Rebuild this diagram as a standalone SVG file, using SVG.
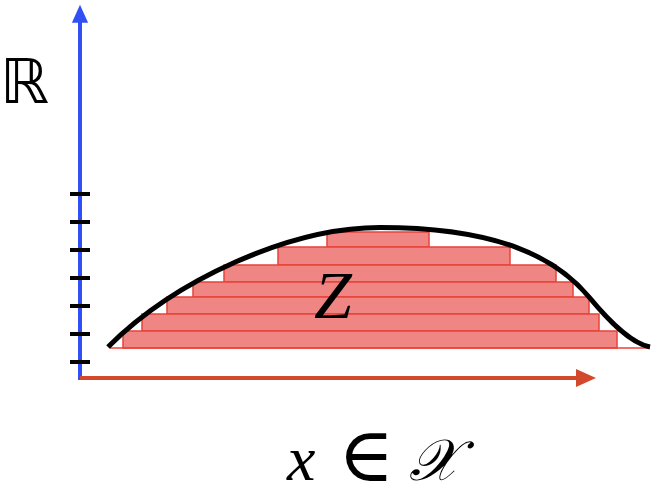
<svg xmlns="http://www.w3.org/2000/svg" width="666" height="490" viewBox="0 0 666 490">
<style>
.bar{fill:#f08683;stroke:#e8433a;stroke-width:1.5}
.tick{stroke:#000;stroke-width:4}
.math{font-family:"Liberation Serif","DejaVu Serif",serif;font-style:italic}
</style>
<defs>
<marker id="ab" markerWidth="18" markerHeight="20" refX="2" refY="9" orient="auto" markerUnits="userSpaceOnUse" viewBox="0 0 20 18">
<path d="M0,0 L20,9 L0,18 Z" fill="#3050f5"/>
</marker>
<marker id="ar" markerWidth="20" markerHeight="18" refX="2" refY="9" orient="auto" markerUnits="userSpaceOnUse" viewBox="0 0 20 18">
<path d="M0,0 L20,9 L0,18 Z" fill="#d2492e"/>
</marker>
</defs>
<rect width="666" height="490" fill="#fff"/>
<g id="bars">
<rect class="bar" x="327" y="232" width="102" height="15"/>
<rect class="bar" x="278" y="247" width="232" height="18"/>
<rect class="bar" x="224" y="265" width="332" height="17"/>
<rect class="bar" x="193" y="282" width="380" height="15"/>
<rect class="bar" x="167" y="297" width="422" height="17"/>
<rect class="bar" x="142" y="314" width="457" height="17"/>
<rect class="bar" x="123" y="331" width="494" height="17"/>
<line x1="110" y1="348" x2="650" y2="348" stroke="#e8433a" stroke-width="1.5"/>
</g>
<g id="curve">
<path d="M108,347 C175.2,279.8 290,227.5 380,227.5 C500,227.5 557,258.5 589,297 C608.2,320.1 630,343 650,347" fill="none" stroke="#000" stroke-width="5"/>
</g>
<g id="connectors">
<line x1="80" y1="380" x2="80" y2="21" stroke="#3050f5" stroke-width="4" marker-end="url(#ab)"/>
<line x1="80" y1="378" x2="578" y2="378" stroke="#d2492e" stroke-width="4" marker-end="url(#ar)"/>
</g>
<g id="ticks">
<line class="tick" x1="70" y1="194" x2="90" y2="194"/>
<line class="tick" x1="70" y1="222" x2="90" y2="222"/>
<line class="tick" x1="70" y1="250" x2="90" y2="250"/>
<line class="tick" x1="70" y1="278" x2="90" y2="278"/>
<line class="tick" x1="70" y1="306" x2="90" y2="306"/>
<line class="tick" x1="70" y1="334" x2="90" y2="334"/>
<line class="tick" x1="70" y1="362" x2="90" y2="362"/>
</g>
<g id="labels">
<text x="0" y="103" font-family="DejaVu Sans, sans-serif" font-size="62">ℝ</text>
<text class="math" x="314" y="318" font-size="68">Z</text>
<text class="math" x="287" y="480" font-size="64">x</text>
<text x="338" y="481" font-family="DejaVu Serif, serif" font-size="76">∈</text>
<text class="math" x="409" y="480" font-family="DejaVu Serif, 'Noto Sans', serif" font-size="58">𝒳</text>
</g>
</svg>
